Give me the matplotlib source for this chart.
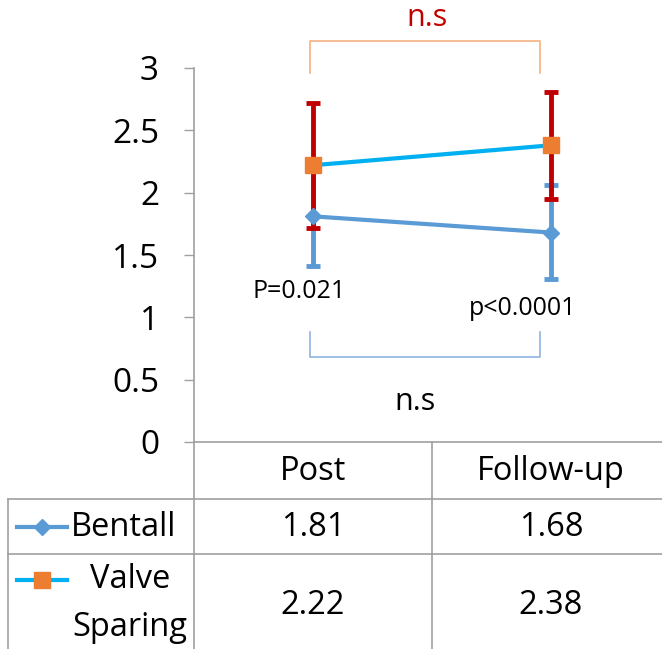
import matplotlib
matplotlib.use("Agg")
import matplotlib.pyplot as plt
from matplotlib.lines import Line2D

plt.rcParams['font.family'] = ['Open Sans', 'DejaVu Sans']

# data
categories = ["Post", "Follow-up"]
series_names = ["Bentall", "Valve\nSparing"]
bentall = [1.81, 1.68]
bentall_err_lo = [0.40, 0.37]
bentall_err_hi = [0.40, 0.38]
valve = [2.22, 2.38]
valve_err = [0.50, 0.43]
y_ticks = [0, 0.5, 1, 1.5, 2, 2.5, 3]
y_tick_labels = ["0", "0.5", "1", "1.5", "2", "2.5", "3"]

W, H = 662, 649
fig = plt.figure(figsize=(W / 100, H / 100), dpi=100)


def fx(x):
    return x / W


def fy(y):
    return 1 - y / H


grid_c = "#a0a0a0"
blue = "#5b9bd5"
cyan = "#00b0f0"
orange = "#ed7d31"
red = "#c00000"

ax = fig.add_axes([fx(194), fy(442), fx(670) - fx(194), fy(68) - fy(442)])
x = [0, 1]
ax.set_xlim(-0.5, 1.5)
ax.set_ylim(0, 3)

ax.errorbar(x, bentall, yerr=[bentall_err_lo, bentall_err_hi], fmt="none",
            ecolor=blue, elinewidth=3.5, capsize=5, capthick=3.5, zorder=2)
ax.errorbar(x, valve, yerr=[valve_err, valve_err], fmt="none",
            ecolor=red, elinewidth=3.5, capsize=5, capthick=3.5, zorder=3)
ax.plot(x, bentall, color=blue, lw=3, marker="D", ms=8, mfc=blue, mec=blue, zorder=4)
ax.plot(x, valve, color=cyan, lw=3, marker="s", ms=11, mfc=orange, mec=orange, zorder=5)

# brackets and annotations
ax.plot([-0.013, -0.013, 0.954, 0.954], [2.96, 3.22, 3.22, 2.96], color="#f4b183",
        lw=1.2, clip_on=False)
ax.text(0.48, 3.40, "n.s", color=red, fontsize=22, ha="center", va="center", clip_on=False)
ax.plot([-0.013, -0.013, 0.954, 0.954], [0.88, 0.68, 0.68, 0.88], color="#8db4e2",
        lw=1.2, clip_on=False)
ax.text(0.43, 0.32, "n.s", color="black", fontsize=22, ha="center", va="center")
ax.text(-0.06, 1.21, "P=0.021", fontsize=18, ha="center", va="center")
ax.text(0.88, 1.07, "p<0.0001", fontsize=18, ha="center", va="center")

ax.set_xticks([])
ax.set_yticks(y_ticks)
ax.set_yticklabels(y_tick_labels, fontsize=24)
ax.tick_params(axis="y", length=7.2, color=grid_c, width=1, pad=18)
for side in ["top", "right"]:
    ax.spines[side].set_visible(False)
ax.spines["left"].set_color(grid_c)
ax.spines["bottom"].set_color(grid_c)
ax.spines["left"].set_linewidth(1.2)
ax.spines["bottom"].set_linewidth(1.2)

# data table below the axis
def hline(y, x0, x1):
    fig.add_artist(Line2D([fx(x0), fx(x1)], [fy(y), fy(y)], color=grid_c, lw=1.2))


def vline(xp, y0, y1):
    fig.add_artist(Line2D([fx(xp), fx(xp)], [fy(y0), fy(y1)], color=grid_c, lw=1.2))


vline(194, 442, 649)
vline(432, 442, 649)
vline(8, 499, 649)
hline(499, 8, 662)
hline(554, 8, 662)

col_x = [313, 551]
for cx, cat in zip(col_x, categories):
    fig.text(fx(cx), fy(471), cat, fontsize=23.5, ha="center", va="center")
for cx, b, v in zip(col_x, bentall, valve):
    fig.text(fx(cx), fy(527), f"{b:.2f}", fontsize=23.5, ha="center", va="center")
    fig.text(fx(cx), fy(605), f"{v:.2f}", fontsize=23.5, ha="center", va="center")

fig.add_artist(Line2D([fx(17), fx(42), fx(67)], [fy(527)] * 3, color=blue, lw=3,
                      marker="D", ms=8, markevery=[1], mfc=blue, mec=blue))
fig.add_artist(Line2D([fx(17), fx(42), fx(67)], [fy(580)] * 3, color=cyan, lw=3,
                      marker="s", ms=11, markevery=[1], mfc=orange, mec=orange))
fig.text(fx(124), fy(527), series_names[0], fontsize=23.5, ha="center", va="center")
fig.text(fx(130), fy(580), "Valve", fontsize=23.5, ha="center", va="center")
fig.text(fx(130), fy(628), "Sparing", fontsize=23.5, ha="center", va="center")

plt.savefig("out.png", dpi=100)
plt.close()
